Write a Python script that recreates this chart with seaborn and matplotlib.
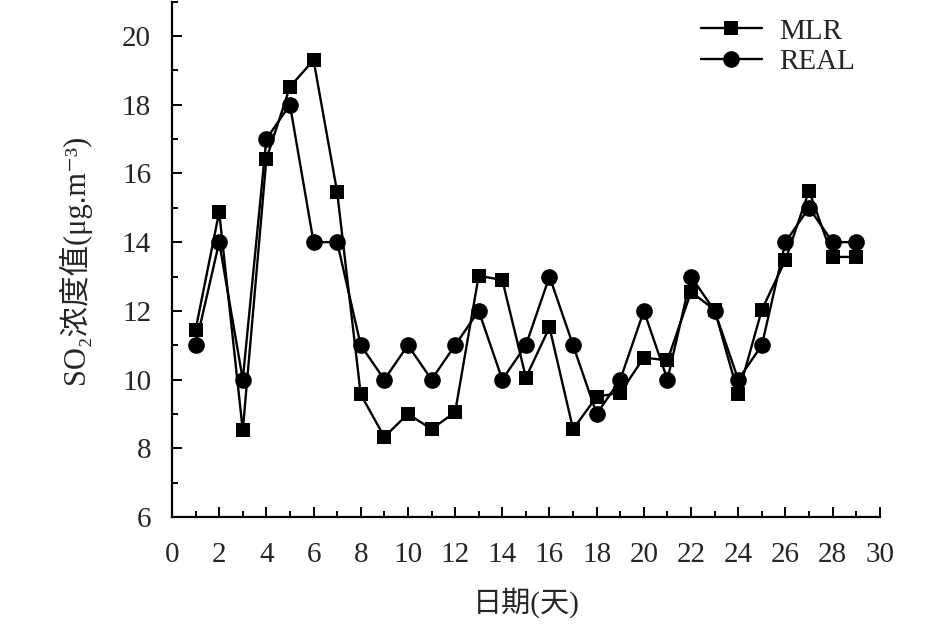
import numpy as np
import pandas as pd
import matplotlib
matplotlib.use("Agg")
import matplotlib.pyplot as plt
import seaborn as sns
from matplotlib.ticker import MultipleLocator

# 数据
days = list(range(1, 30))
mlr = [11.45, 14.88, 8.52, 16.42, 18.52, 19.30, 15.46, 9.57, 8.33, 9.00,
       8.56, 9.05, 13.02, 12.90, 10.06, 11.52, 8.56, 9.50, 9.62, 10.64,
       10.56, 12.55, 12.03, 9.58, 12.03, 13.48, 15.50, 13.57, 13.57]
real = [11, 14, 10, 17, 18, 14, 14, 11, 10, 11,
        10, 11, 12, 10, 11, 13, 11, 9, 10, 12,
        10, 13, 12, 10, 11, 14, 15, 14, 14]
series_names = ["MLR", "REAL"]

df = pd.DataFrame({
    "day": days * 2,
    "value": mlr + real,
    "series": [series_names[0]] * len(days) + [series_names[1]] * len(days),
})

sns.set_style("ticks")
plt.rcParams['font.family'] = ['Liberation Serif', 'Noto Sans CJK SC', 'DejaVu Sans']
plt.rcParams['xtick.direction'] = 'in'
plt.rcParams['ytick.direction'] = 'in'

fig = plt.figure(figsize=(9.45, 6.27), dpi=100)
ax = fig.add_axes([0.182, 0.1754, 0.749, 0.822])

sns.lineplot(data=df, x="day", y="value", hue="series", style="series",
             palette={"MLR": "black", "REAL": "black"},
             markers={"MLR": "s", "REAL": "o"}, dashes=False,
             linewidth=1.7, markeredgewidth=0, ax=ax)
for line in ax.lines:
    if line.get_marker() == 's':
        line.set_markersize(10.5)
    else:
        line.set_markersize(12)

ax.set_xlim(0, 30)
ax.set_ylim(6, 21)
ax.xaxis.set_major_locator(MultipleLocator(2))
ax.xaxis.set_minor_locator(MultipleLocator(1))
ax.yaxis.set_major_locator(MultipleLocator(2))
ax.yaxis.set_minor_locator(MultipleLocator(1))
ax.set_yticks(np.arange(6, 21, 2))
ax.tick_params(which='major', length=7, width=1.4, labelsize=21, color='black')
ax.tick_params(which='minor', length=4, width=1.4, color='black')
ax.tick_params(axis='x', pad=18)
ax.tick_params(axis='y', pad=15)

for side in ['top', 'right']:
    ax.spines[side].set_visible(False)
for side in ['left', 'bottom']:
    ax.spines[side].set_linewidth(1.6)
    ax.spines[side].set_color('black')

ax.set_xlabel("日期(天)", fontsize=21, labelpad=14)
ax.set_ylabel("SO₂浓度值(μg.m⁻³)", fontsize=22, labelpad=22)

handles, labels = ax.get_legend_handles_labels()
ax.legend(handles, labels, loc='upper right', bbox_to_anchor=(0.99, 1.002),
          frameon=False, fontsize=21, handlelength=2.1, handletextpad=0.6,
          labelspacing=0.15, borderaxespad=0.2)

fig.savefig("out.png", dpi=100)
